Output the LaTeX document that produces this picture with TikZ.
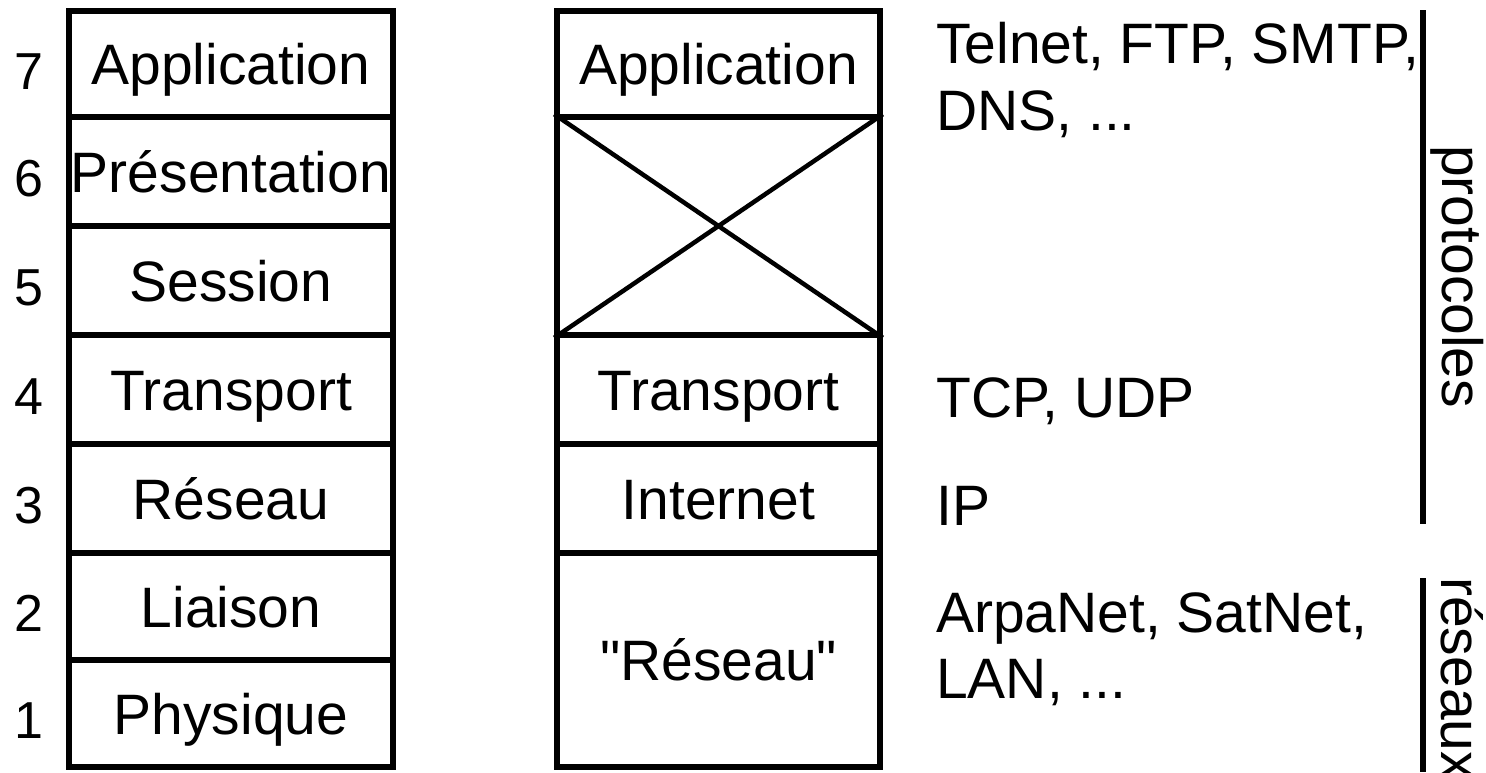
\documentclass[tikz,border=0pt]{standalone}
\usepackage{fontspec}
\setmainfont{Liberation Sans}
\newfontfamily\hvraw{Liberation Sans}
\begin{document}
\begin{tikzpicture}[x=1pt,y=-1pt,
  lyr/.style={draw=black, line width=5.5pt, line join=miter, inner sep=0pt,
    text height=41pt, text depth=0pt, font=\hvraw\fontsize{57}{68}\selectfont},
  lcol/.style={lyr, minimum width=324pt},
  rcol/.style={lyr, minimum width=323pt},
  num/.style={inner sep=0pt, text height=50pt, text depth=0pt, font=\hvraw\fontsize{52}{62}\selectfont},
  proto/.style={anchor=base west, inner sep=0pt, font=\hvraw\fontsize{57}{68}\selectfont},
  side/.style={rotate=-90, anchor=base west, inner sep=0pt, font=\hvraw\fontsize{57}{68}\selectfont},
  bar/.style={line width=6.5pt}]
\useasboundingbox (0,0) rectangle (1486,772);
% left column (OSI)
\node[lcol, minimum height=106pt] (L7) at (231,64) {Application};
\node[lcol, minimum height=109pt] (L6) at (231,171.5) {Présentation};
\node[lcol, minimum height=109pt] (L5) at (231,280.5) {Session};
\node[lcol, minimum height=109pt] (L4) at (231,389.5) {Transport};
\node[lcol, minimum height=109pt] (L3) at (231,498.5) {Réseau};
\node[lcol, minimum height=107pt] (L2) at (231,606.5) {Liaison};
\node[lcol, minimum height=107pt] (L1) at (231,713.5) {Physique};
% numbers
\node[num] (n7) at (29,64) {7};
\node[num] (n6) at (29,171.5) {6};
\node[num] (n5) at (29,280.5) {5};
\node[num] (n4) at (29,389.5) {4};
\node[num] (n3) at (29,498.5) {3};
\node[num] (n2) at (29,606.5) {2};
\node[num] (n1) at (29,713.5) {1};
% right column (TCP/IP)
\node[rcol, minimum height=106pt] (R7) at (718.5,64) {Application};
\node[rcol, minimum height=218pt] (RX) at (718.5,226) {};
\node[rcol, minimum height=109pt] (R4) at (718.5,389.5) {Transport};
\node[rcol, minimum height=109pt] (R3) at (718.5,498.5) {Internet};
\node[rcol, minimum height=214pt] (R2) at (718.5,660) {"Réseau"};
\draw[line width=4.5pt] (RX.north west) -- (RX.south east);
\draw[line width=4.5pt] (RX.south west) -- (RX.north east);
% protocol texts
\node[proto] (t7a) at (936,63) {Telnet, FTP, SMTP,};
\node[proto] (t7b) at (936,130) {DNS, ...};
\node[proto] (t4) at (936,417) {TCP, UDP};
\node[proto] (t3) at (936,525) {IP};
\node[proto] (t2a) at (936,632) {ArpaNet, SatNet,};
\node[proto] (t2b) at (936,698) {LAN, ...};
% side bars
\coordinate (pa) at (1423,10);
\coordinate (pb) at (1423,524);
\coordinate (ra) at (1423,578);
\coordinate (rb) at (1423,772);
\draw[bar] (pa) -- (pb);
\draw[bar] (ra) -- (rb);
\node[side] (sp) at (1442,145) {protocoles};
\node[side] (sr) at (1441,577) {réseaux};
\end{tikzpicture}
\end{document}
